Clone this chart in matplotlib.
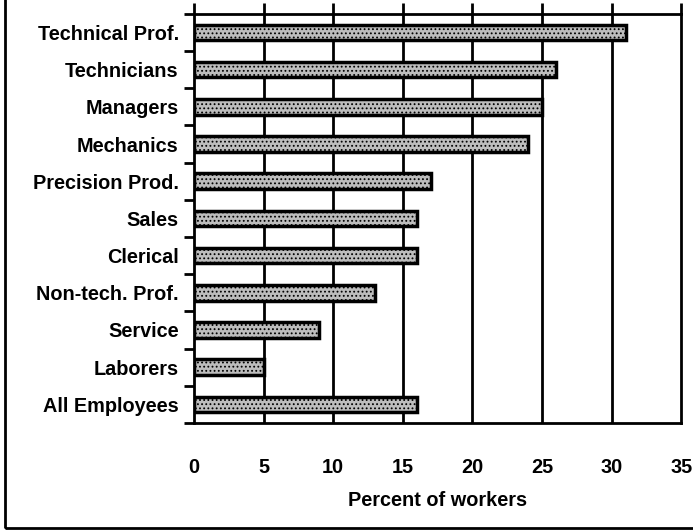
import matplotlib.pyplot as plt
from matplotlib.patches import Rectangle

categories = [
    "Technical Prof.", "Technicians", "Managers", "Mechanics", "Precision Prod.",
    "Sales", "Clerical", "Non-tech. Prof.", "Service", "Laborers", "All Employees",
]
percent = [31, 26, 25, 24, 17, 16, 16, 13, 9, 5, 16]
x_ticks = [0, 5, 10, 15, 20, 25, 30, 35]

plt.rcParams["font.family"] = ["Liberation Sans", "DejaVu Sans"]
plt.rcParams["font.weight"] = "bold"
plt.rcParams["hatch.color"] = "#555555"
plt.rcParams["hatch.linewidth"] = 0.8

fig = plt.figure(figsize=(6.93, 5.32), dpi=100)
ax = fig.add_axes([0.280, 0.205, 0.703, 0.769])

y = list(range(len(categories)))
ax.barh(y, percent, height=0.42, color="#bdbdbd", edgecolor="black",
        linewidth=2.5, hatch="....", zorder=3)

for xv in x_ticks[1:-1]:
    ax.axvline(xv, color="black", linewidth=2, zorder=1)

ax.set_xlim(0, 35)
ax.set_ylim(len(categories) - 0.5, -0.5)

ax.set_xticks(x_ticks)
ax.set_xticklabels([str(v) for v in x_ticks])
ax.tick_params(axis="x", bottom=False, top=True, labelbottom=True, direction="out",
               length=8, width=2, pad=17, labelsize=14.3)

ax.set_yticks(y)
ax.set_yticklabels(categories)
ax.set_yticks([i - 0.5 for i in range(len(categories) + 1)], minor=True)
ax.tick_params(axis="y", which="major", length=0, pad=11, labelsize=14.3)
ax.tick_params(axis="y", which="minor", length=7, width=2, direction="out")

for side in ax.spines.values():
    side.set_linewidth(2)

ax.set_xlabel("Percent of workers", fontsize=14.3, fontweight="bold", labelpad=10)

fig.patches.append(Rectangle((5 / 693, 4 / 532), 1.0, 1.0, transform=fig.transFigure,
                             fill=False, edgecolor="black", linewidth=2))

fig.savefig("out.png", dpi=100)
